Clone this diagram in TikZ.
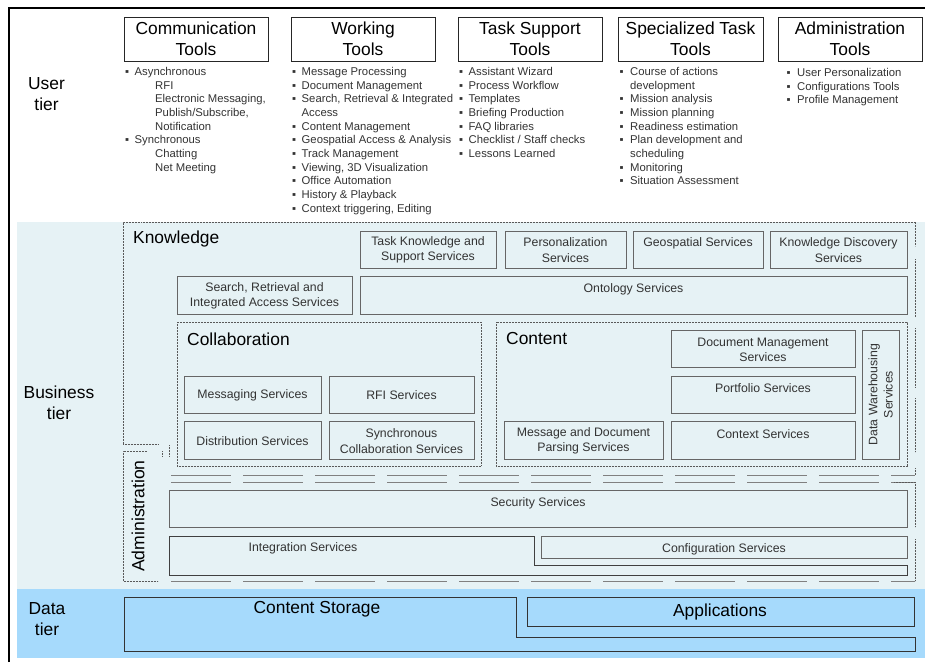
\documentclass[tikz,border=0pt]{standalone}
\usepackage{fontspec}
\setmainfont{Liberation Sans}
\tikzset{
 x=1pt,y=-1pt,
 dotline/.style={draw=black!65,line width=0.6pt,dash pattern=on 0.8pt off 0.7pt},
 longdash/.style={draw=black!50,line width=0.5pt,dash pattern=on 60pt off 12pt},
 tool/.style={draw=black!85,line width=0.8pt,fill=white},
 svc/.style={draw=black!60,line width=1pt,fill=bizfill},
 ds/.style={draw=black!80,line width=0.9pt},
 stxt/.style={inner sep=0pt,align=center,font=\fontsize{12.3}{15.2}\selectfont,text=black!80},
 htxt/.style={inner sep=0pt,align=center,font=\fontsize{17.4}{21.5}\selectfont},
 tier/.style={inner sep=0pt,align=center,font=\fontsize{17.4}{21.5}\selectfont},
 grp/.style={inner sep=0pt,anchor=west,font=\fontsize{17.4}{20}\selectfont},
 lst/.style={inner sep=0pt,anchor=north west,align=left,font=\fontsize{11.3}{13.7}\selectfont,text=black!80},
}
\definecolor{bizfill}{HTML}{E6F2F5}
\definecolor{datafill}{HTML}{A6DAFC}
\newcommand{\bA}{\makebox[9.5pt][l]{▪}}
\newcommand{\bB}{\makebox[10.5pt][l]{▪}}
\newcommand{\ind}{\hspace*{30pt}}
\begin{document}
\begin{tikzpicture}
\useasboundingbox (0,0) rectangle (925,662);
\fill[white] (0,0) rectangle (925,662);
\fill[bizfill] (17,222) rectangle (925,589);
\fill[datafill] (17,589) rectangle (925,658);
% frame
\draw[black,line width=2pt] (9,662) -- (9,8) -- (925,8);
% tier labels
\node[tier] (ut) at (46.5,94) {User\\tier};
\node[tier] (bt) at (59,403) {Business\\tier};
\node[tier] (dt) at (47,619) {Data\\tier};
% tools
\foreach \n/\a/\b/\t in {c1/124/268/{Communication\\Tools},c2/291/435/{Working\\Tools},c3/458/602/{Task Support\\Tools},c4/618/763/{Specialized Task\\Tools},c5/778/922/{Administration\\Tools}}{
 \path[tool] (\a,17) rectangle (\b,61);
 \node[htxt] (\n) at ({(\a+\b)/2},39) {\t};
}
\node[lst] (l1) at (125,67) {\bA Asynchronous\\\ind RFI\\\ind Electronic Messaging,\\\ind Publish/Subscribe,\\\ind Notification\\\bA Synchronous\\\ind Chatting\\\ind Net Meeting};
\node[lst] (l2) at (292,67) {\bA Message Processing\\\bA Document Management\\\bA Search, Retrieval \& Integrated\\\hspace*{9.5pt}Access\\\bA Content Management\\\bA Geospatial Access \& Analysis\\\bA Track Management\\\bA Viewing, 3D Visualization\\\bA Office Automation\\\bA History \& Playback\\\bA Context triggering, Editing};
\node[lst] (l3) at (459,67) {\bA Assistant Wizard\\\bA Process Workflow\\\bA Templates\\\bA Briefing Production\\\bA FAQ libraries\\\bA Checklist / Staff checks\\\bA Lessons Learned};
\node[lst] (l4) at (619.5,67) {\bB Course of actions\\\hspace*{10.5pt}development\\\bB Mission analysis\\\bB Mission planning\\\bB Readiness estimation\\\bB Plan development and\\\hspace*{10.5pt}scheduling\\\bB Monitoring\\\bB Situation Assessment};
\node[lst] (l5) at (786.5,68) {\bB User Personalization\\\bB Configurations Tools\\\bB Profile Management};
% dotted
\draw[dotline] (123,444) -- (123,222) -- (915,222) -- (915,246);
\draw[dotline] (915,259) -- (915,317) (915,328) -- (915,387) (915,398) -- (915,452) (915,468) -- (915,475);
\draw[dotline] (123,444) -- (158,444);
\draw[dotline] (147,451) -- (123,451) -- (123,581) -- (158,581);
\draw[dotline] (169,445) -- (169,456) (162,451) -- (162,456);
\draw[longdash] (171,475) -- (915,475) (171,482) -- (915,482) (171,581) -- (915,581);
\draw[dotline] (894,482) -- (915,482) -- (915,527) (915,539) -- (915,581);
\path[dotline,fill=none] (177,322) rectangle (481,466);
\path[dotline,fill=none] (496,322) rectangle (907,466);
% services
\foreach \n/\a/\c/\b/\d/\t/\ty in {
 s1/360/231/496/268/{Task Knowledge and\\Support Services}/250,
 s2/505/231/626/268/{Personalization\\Services}/250,
 s3/633/231/763/268/{Geospatial Services}/243,
 s4/770/231/907/268/{Knowledge Discovery\\Services}/250,
 s5/177/276/352/314/{Search, Retrieval and\\Integrated Access Services}/296,
 s6/360/276/907/314/{Ontology Services}/289.5,
 s7/184/376/321/413/{Messaging Services}/395,
 s8/329/376/474/413/{RFI Services}/395,
 s9/184/421/321/459/{Distribution Services}/441,
 s10/329/421/474/459/{Synchronous\\Collaboration Services}/441,
 s11/504/421/663/459/{Message and Document\\Parsing Services}/441,
 s12/671/330/855/367/{Document Management\\Services}/350,
 s13/671/376/855/413/{Portfolio Services}/388,
 s14/671/421/855/459/{Context Services}/434,
 s15/169/490/907/527/{Security Services}/503,
 s17/541/536/907/558/{Configuration Services}/549.5}{
 \path[svc] (\a,\c) rectangle (\b,\d);
 \node[stxt] (\n) at ({(\a+\b)/2},\ty) {\t};
}
\path[svc] (862,330) rectangle (899,459);
\node[stxt,rotate=90] (s18) at (880.5,394.5) {Data Warehousing\\Services};
% integration
\path[svc,draw=black!75] (169,536) -- (534,536) -- (534,565) -- (907,565) -- (907,575) -- (169,575) -- cycle;
\node[stxt] (s16) at (303,548.5) {Integration Services};
\node[inner sep=0pt,rotate=90,font=\fontsize{17.6}{20}\selectfont] (adm) at (138,516) {Administration};
% groups
\node[grp] (kn) at (133,239) {Knowledge};
\node[grp] (co) at (187,339) {Collaboration};
\node[grp] (ct) at (506,339) {Content};
% data
\path[ds] (124,597) -- (516,597) -- (516,637) -- (915,637) -- (915,651) -- (124,651) -- cycle;
\path[ds] (527,597) rectangle (914,626);
\node[htxt] (cs) at (317,609) {Content Storage};
\node[htxt] (ap) at (720,612) {Applications};
\end{tikzpicture}
\end{document}
